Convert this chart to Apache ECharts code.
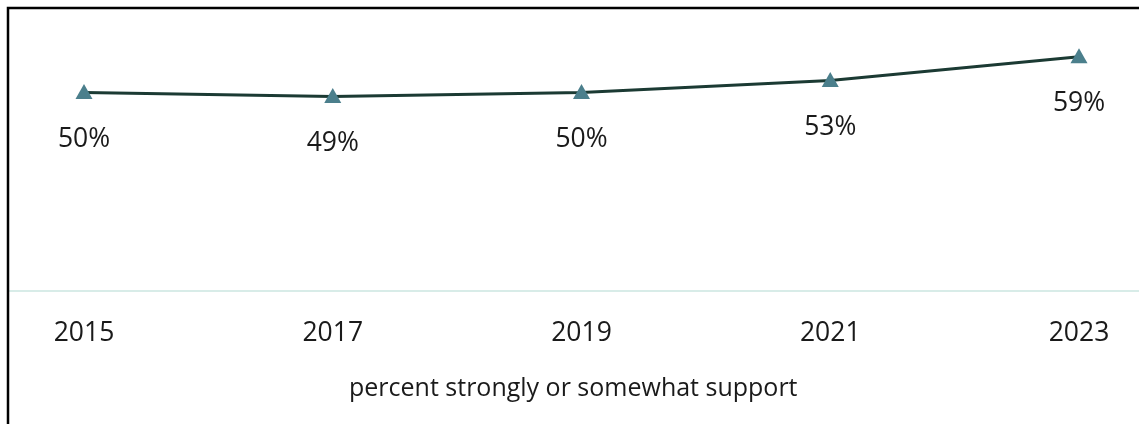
<!DOCTYPE html>
<html>
<head>
<meta charset="utf-8">
<script src="https://cdn.jsdelivr.net/npm/echarts@6/dist/echarts.min.js"></script>
<style>
  html, body { margin: 0; padding: 0; background: #fff; }
  #chart { width: 1139px; height: 424px; }
</style>
</head>
<body>
<div id="chart"></div>
<script>
// Survey years and share of respondents who strongly or somewhat support
const years = ['2015', '2017', '2019', '2021', '2023'];
const support = [50, 49, 50, 53, 59];
const axisTitle = 'percent strongly or somewhat support';

const FONT = '"Open Sans", "Noto Sans", sans-serif';
const chart = echarts.init(document.getElementById('chart'), null, { renderer: 'canvas' });

chart.setOption({
  animation: false,
  backgroundColor: '#ffffff',
  grid: { left: 84, right: 60, top: 13, bottom: 133, containLabel: false },
  graphic: [
    // frame along the top and left edges
    { type: 'polyline', silent: true, z: 10,
      shape: { points: [[8, 430], [8, 8], [1145, 8]] },
      style: { stroke: '#000', lineWidth: 2.5, fill: null } },
    // baseline spanning the full width
    { type: 'line', silent: true, z: 1,
      shape: { x1: 9, y1: 291, x2: 1139, y2: 291 },
      style: { stroke: '#d8ece8', lineWidth: 2 } },
    { type: 'text', left: 349, top: 376,
      style: { text: axisTitle, font: '400 25px ' + FONT, fill: '#1a1a1a' } }
  ],
  xAxis: {
    type: 'category',
    data: years,
    boundaryGap: false,
    axisLine: { show: false },
    axisTick: { show: false },
    axisLabel: { margin: 29, color: '#1a1a1a', fontSize: 26.5, fontFamily: FONT }
  },
  yAxis: {
    type: 'value',
    min: 0,
    max: 70,
    show: false,
    splitLine: { show: false }
  },
  series: [{
    type: 'line',
    data: support,
    symbol: 'triangle',
    symbolSize: [17, 15],
    symbolOffset: [0, -1],
    lineStyle: { color: '#1b3a33', width: 3 },
    itemStyle: { color: '#4b7f8c' },
    label: {
      show: true,
      position: 'bottom',
      distance: 27,
      formatter: p => p.value + '%',
      color: '#1a1a1a',
      fontSize: 26.5,
      fontFamily: FONT
    }
  }]
});
</script>
</body>
</html>
